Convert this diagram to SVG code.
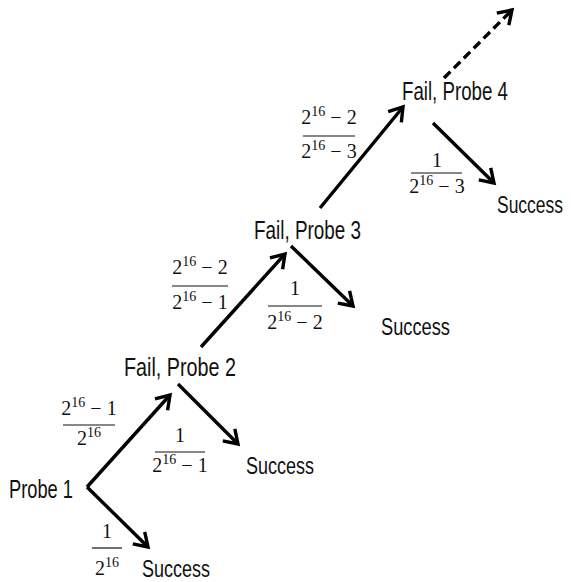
<svg xmlns="http://www.w3.org/2000/svg" width="571" height="582" viewBox="0 0 571 582">
<style>
.lbl{font-family:"Liberation Sans",Arial,sans-serif;font-size:25px;fill:#111}
.suc{font-family:"Liberation Sans",Arial,sans-serif;font-size:23px;fill:#111}
.fr{font-family:"Liberation Serif","Times New Roman",serif;font-size:20px;fill:#111}
.sup{font-size:14px}
.bar{stroke:#111;stroke-width:1.2}
.edge{stroke:#000;stroke-width:3.4;fill:none;marker-end:url(#ah)}
.dash{stroke-dasharray:9 5}
</style>
<defs>
<marker id="ah" markerUnits="userSpaceOnUse" viewBox="-18 -12 22 24" markerWidth="22" markerHeight="24" refX="0" refY="0" orient="auto">
<path d="M-13,-8.5 L0,0 L-13,8.5" fill="none" stroke="#000" stroke-width="3.4" stroke-linejoin="miter"/>
</marker>
</defs>
<rect width="571" height="582" fill="#fff"/>
<g id="connectors">
<path class="edge" d="M87,487 L170,395"/>
<path class="edge" d="M87,487 L148,547"/>
<path class="edge" d="M201,347 L285,254"/>
<path class="edge" d="M178,384 L238,444"/>
<path class="edge" d="M320,208 L403,107"/>
<path class="edge" d="M291,246 L353,306"/>
<path class="edge" d="M433,123 L494,183"/>
<path class="edge dash" d="M444,78 L512,10"/>
</g>
<g id="probe1"><text class="lbl" x="9" y="498" textLength="64" lengthAdjust="spacingAndGlyphs">Probe 1</text></g>
<g id="probe2"><text class="lbl" x="124" y="376" textLength="112" lengthAdjust="spacingAndGlyphs">Fail, Probe 2</text></g>
<g id="probe3"><text class="lbl" x="254" y="239" textLength="107" lengthAdjust="spacingAndGlyphs">Fail, Probe 3</text></g>
<g id="probe4"><text class="lbl" x="402" y="100" textLength="106" lengthAdjust="spacingAndGlyphs">Fail, Probe 4</text></g>
<g id="success1"><text class="suc" x="142" y="577" textLength="68" lengthAdjust="spacingAndGlyphs">Success</text></g>
<g id="success2"><text class="suc" x="246" y="474" textLength="68" lengthAdjust="spacingAndGlyphs">Success</text></g>
<g id="success3"><text class="suc" x="381" y="335" textLength="69" lengthAdjust="spacingAndGlyphs">Success</text></g>
<g id="success4"><text class="suc" transform="translate(497,213) scale(0.76,1)" x="0" y="0">Success</text></g>
<g id="frac1">
<text class="fr" x="89" y="415" text-anchor="middle">2<tspan class="sup" dy="-8">16</tspan><tspan dy="8"> − 1</tspan></text>
<line class="bar" x1="63" y1="425" x2="115" y2="425"/>
<text class="fr" x="89" y="445" text-anchor="middle">2<tspan class="sup" dy="-8">16</tspan></text>
</g>
<g id="frac2">
<text class="fr" x="107" y="538" text-anchor="middle">1</text>
<line class="bar" x1="92" y1="548" x2="122" y2="548"/>
<text class="fr" x="107" y="575" text-anchor="middle">2<tspan class="sup" dy="-8">16</tspan></text>
</g>
<g id="frac3">
<text class="fr" x="180" y="442" text-anchor="middle">1</text>
<line class="bar" x1="155" y1="452" x2="205" y2="452"/>
<text class="fr" x="180" y="472" text-anchor="middle">2<tspan class="sup" dy="-8">16</tspan><tspan dy="8"> − 1</tspan></text>
</g>
<g id="frac4">
<text class="fr" x="200" y="274" text-anchor="middle">2<tspan class="sup" dy="-8">16</tspan><tspan dy="8"> − 2</tspan></text>
<line class="bar" x1="172" y1="286" x2="228" y2="286"/>
<text class="fr" x="200" y="309" text-anchor="middle">2<tspan class="sup" dy="-8">16</tspan><tspan dy="8"> − 1</tspan></text>
</g>
<g id="frac5">
<text class="fr" x="295" y="295" text-anchor="middle">1</text>
<line class="bar" x1="268" y1="306" x2="322" y2="306"/>
<text class="fr" x="295" y="329" text-anchor="middle">2<tspan class="sup" dy="-8">16</tspan><tspan dy="8"> − 2</tspan></text>
</g>
<g id="frac6">
<text class="fr" x="329" y="124" text-anchor="middle">2<tspan class="sup" dy="-8">16</tspan><tspan dy="8"> − 2</tspan></text>
<line class="bar" x1="303" y1="136" x2="355" y2="136"/>
<text class="fr" x="329" y="158" text-anchor="middle">2<tspan class="sup" dy="-8">16</tspan><tspan dy="8"> − 3</tspan></text>
</g>
<g id="frac7">
<text class="fr" x="437" y="167" text-anchor="middle">1</text>
<line class="bar" x1="411" y1="173" x2="462" y2="173"/>
<text class="fr" x="437" y="193" text-anchor="middle">2<tspan class="sup" dy="-8">16</tspan><tspan dy="8"> − 3</tspan></text>
</g>
</svg>
